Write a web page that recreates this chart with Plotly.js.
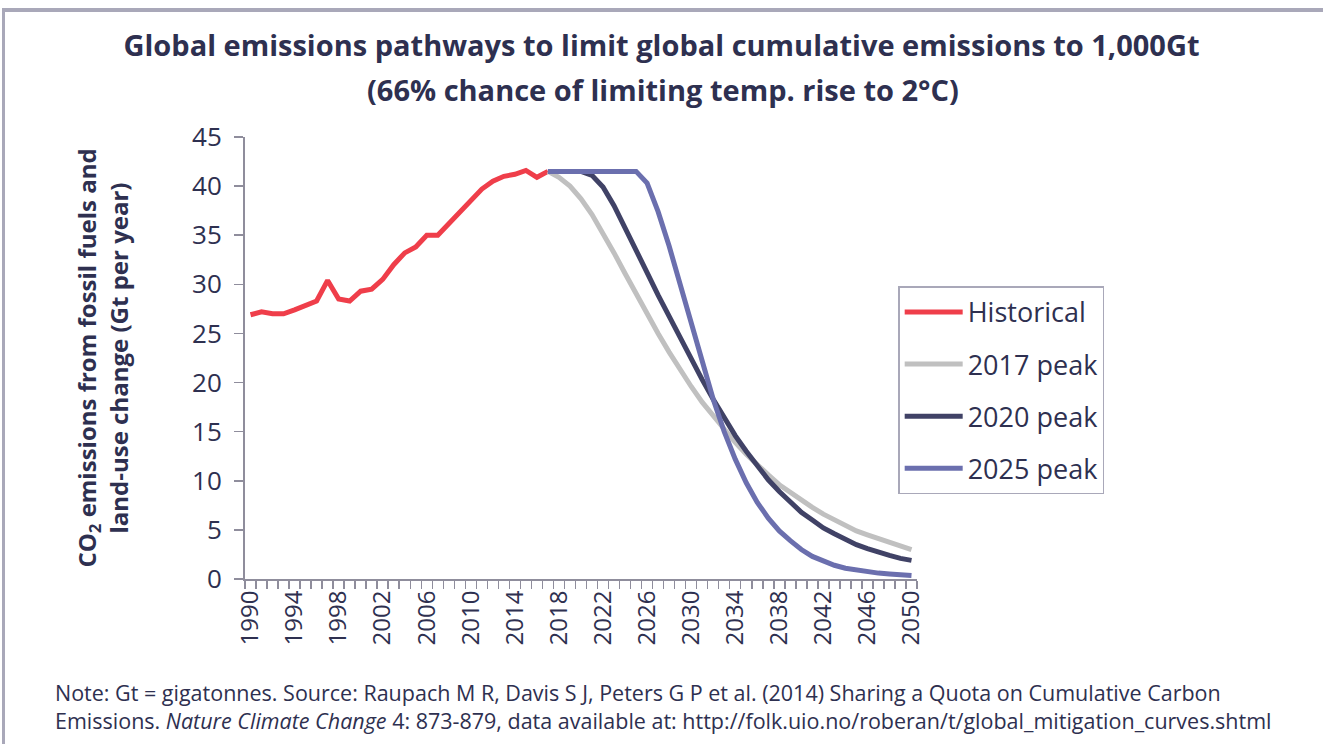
<!DOCTYPE html>
<html>
<head>
<meta charset="utf-8">
<script src="https://cdn.plot.ly/plotly-3.0.1.min.js"></script>
<style>
  html, body { margin: 0; padding: 0; background: #ffffff; }
  #wrap { position: relative; width: 1323px; height: 744px; overflow: hidden; }
  #chart { position: absolute; left: 0; top: 0; width: 1323px; height: 744px; }
  #frame { position: absolute; left: 2px; top: 8px; width: 1400px; height: 800px;
           border-top: 4px solid #a9a8b9; border-left: 3px solid #a9a8b9; pointer-events: none; }
</style>
</head>
<body>
<div id="wrap">
  <div id="chart"></div>
  <div id="frame"></div>
</div>
<script>
// ---- Data ----
const histYears = [1990,1991,1992,1993,1994,1995,1996,1997,1998,1999,2000,2001,2002,2003,2004,2005,2006,2007,2008,2009,2010,2011,2012,2013,2014,2015,2016,2017];
const histValues = [26.9,27.2,27.0,27.0,27.4,27.9,28.3,30.4,28.5,28.3,29.3,29.5,30.5,32.0,33.2,33.8,35.0,35.0,36.2,37.4,38.5,39.7,40.5,41.0,41.2,41.6,40.9,41.5];

const scenYears = [2017,2018,2019,2020,2021,2022,2023,2024,2025,2026,2027,2028,2029,2030,2031,2032,2033,2034,2035,2036,2037,2038,2039,2040,2041,2042,2043,2044,2045,2046,2047,2048,2049,2050];
const peak2017 = [41.5,40.9,40.0,38.7,37.1,35.2,33.2,31.1,29.0,27.0,25.0,23.1,21.3,19.6,18.0,16.6,15.2,13.9,12.7,11.6,10.6,9.6,8.8,8.0,7.3,6.6,6.0,5.4,4.9,4.5,4.1,3.7,3.35,3.0];
const peak2020 = [41.5,41.5,41.5,41.5,41.1,39.9,38.0,35.8,33.5,31.2,28.9,26.7,24.5,22.4,20.3,18.3,16.4,14.6,13.0,11.5,10.1,8.9,7.8,6.8,6.0,5.2,4.6,4.0,3.5,3.1,2.7,2.4,2.1,1.9];
const peak2025 = [41.5,41.5,41.5,41.5,41.5,41.5,41.5,41.5,41.5,40.3,37.4,33.9,30.0,26.0,22.0,18.3,15.0,12.2,9.8,7.8,6.2,4.9,3.9,3.0,2.3,1.8,1.4,1.1,0.9,0.7,0.6,0.5,0.4,0.35];

const seriesNames = ['Historical','2017 peak','2020 peak','2025 peak'];
const seriesColors = ['#ef3e4a','#c0c0c0','#404266','#6b6fae'];

const xTickVals = [1990,1994,1998,2002,2006,2010,2014,2018,2022,2026,2030,2034,2038,2042,2046,2050];
const yTickVals = [0,5,10,15,20,25,30,35,40,45];

const titleLine1 = 'Global emissions pathways to limit global cumulative emissions to 1,000Gt';
const titleLine2 = '(66% chance of limiting temp. rise to 2°C)';
const yTitle = 'CO<sub>2</sub> emissions from fossil fuels and<br>land-use change (Gt per year)';
const noteText = 'Note: Gt = gigatonnes. Source: Raupach M R, Davis S J, Peters G P et al. (2014) Sharing a Quota on Cumulative Carbon<br>Emissions. <i>Nature Climate Change</i> 4: 873-879, data available at: http://folk.uio.no/roberan/t/global_mitigation_curves.shtml';

// ---- Style ----
const FONT = '"Open Sans", Lato, sans-serif';
const TXT = '#2e3050';
const AXIS = '#8f8d9c';

const xs = [histYears, scenYears, scenYears, scenYears];
const ys = [histValues, peak2017, peak2020, peak2025];

const traces = ys.map((v, i) => ({
  type: 'scatter',
  mode: 'lines',
  x: xs[i],
  y: v,
  name: seriesNames[i],
  legendgroup: 'g' + i,
  line: { color: seriesColors[i], width: 5, shape: 'linear' },
  hoverinfo: 'x+y+name'
}));

const layout = {
  width: 1323,
  height: 744,
  paper_bgcolor: '#ffffff',
  plot_bgcolor: '#ffffff',
  margin: { l: 245, r: 406, t: 137, b: 165, pad: 0 },
  font: { family: FONT, color: TXT, size: 22 },
  title: {
    text: '<b>' + titleLine1 + '</b>',
    font: { family: FONT, size: 29, color: TXT },
    xref: 'container', x: 0.5, xanchor: 'center',
    yref: 'container', y: 1 - 36 / 744, yanchor: 'top'
  },
  showlegend: true,
  legend: {
    x: 0.972, xanchor: 'left',
    y: 0.662, yanchor: 'top',
    bgcolor: '#ffffff',
    bordercolor: '#a9a8b9',
    borderwidth: 1.5,
    font: { family: FONT, size: 27, color: TXT },
    tracegroupgap: 14,
    itemwidth: 58,
    traceorder: 'grouped'
  },
  xaxis: {
    range: [1989.5, 2050.5],
    tickmode: 'array',
    tickvals: xTickVals,
    ticktext: xTickVals.map(String),
    tickangle: -90,
    ticks: '',
    tickfont: { family: FONT, size: 24, color: TXT },
    showgrid: false,
    zeroline: false,
    showline: true,
    linecolor: AXIS,
    linewidth: 2,
    minor: { tick0: 1989.5, dtick: 1, ticks: 'outside', ticklen: 8, tickwidth: 1.5, tickcolor: AXIS, showgrid: false },
    fixedrange: true
  },
  yaxis: {
    range: [0, 45],
    tickmode: 'array',
    tickvals: yTickVals,
    ticks: 'outside',
    ticklen: 9,
    tickwidth: 1.5,
    tickcolor: AXIS,
    ticklabelstandoff: 7,
    tickfont: { family: FONT, size: 26, color: TXT },
    showgrid: false,
    zeroline: false,
    showline: true,
    linecolor: AXIS,
    linewidth: 2,
    title: {
      text: '<b>' + yTitle + '</b>',
      font: { family: FONT, size: 24, color: TXT },
      standoff: 57
    },
    fixedrange: true
  },
  annotations: [
    {
      text: '<b>' + titleLine2 + '</b>',
      xref: 'paper', yref: 'paper',
      x: (663 - 245) / 672, xanchor: 'center',
      y: (579.5 - 68) / 442.5, yanchor: 'top',
      showarrow: false,
      font: { family: FONT, size: 29, color: TXT }
    },
    {
      text: noteText,
      xref: 'paper', yref: 'paper',
      x: (53 - 245) / 672, xanchor: 'left',
      y: (579.5 - 677) / 442.5, yanchor: 'top',
      align: 'left',
      showarrow: false,
      font: { family: FONT, size: 21.5, color: TXT }
    }
  ]
};

Plotly.newPlot('chart', traces, layout, { displayModeBar: false, staticPlot: true });
</script>
</body>
</html>
